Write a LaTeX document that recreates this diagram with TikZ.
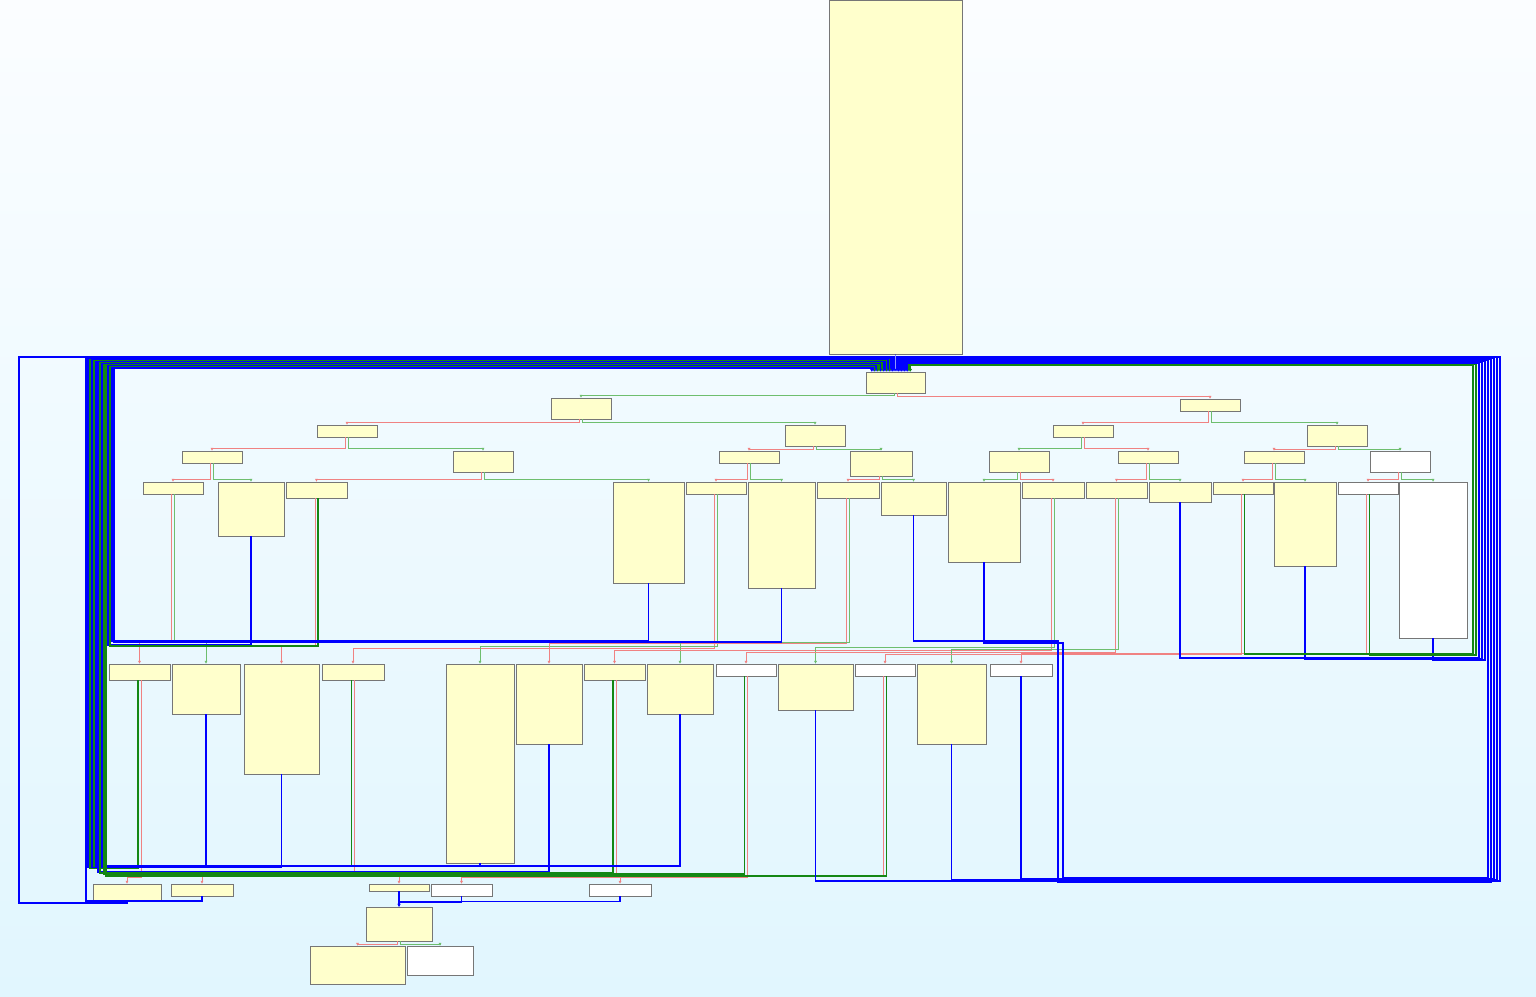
\documentclass[tikz,border=0pt]{standalone}
\usepackage{tikz}
\usetikzlibrary{
    arrows.meta,
    shadows,
}
\definecolor{BlockBG}{RGB}{255,255,204}
\definecolor{BlockLine}{RGB}{118,118,118}
\definecolor{CondT}{RGB}{110,190,110}
\definecolor{CondF}{RGB}{240,130,130}
\definecolor{BackT}{RGB}{20,135,20}
\definecolor{Jump}{RGB}{0,0,255}
\definecolor{SkyTop}{RGB}{251,253,255}
\definecolor{SkyBot}{RGB}{225,246,254}
\tikzstyle{block}=[draw=BlockLine,fill=BlockBG,rectangle,anchor=north west,inner sep=0pt,outer sep=0pt,line width=.5pt,drop shadow={shadow xshift=.6pt,shadow yshift=-.6pt,opacity=.25}]
\tikzstyle{blank}=[fill=white]
\tikzstyle{jmp}=[draw=Jump,line width=.55pt,-{Latex[length=1.6pt,width=1.6pt]}]
\tikzstyle{cond_t}=[draw=CondT,line width=.5pt,-{Latex[length=1.6pt,width=1.6pt]}]
\tikzstyle{cond_f}=[draw=CondF,line width=.5pt,-{Latex[length=1.6pt,width=1.6pt]}]
\tikzstyle{back_t}=[draw=BackT,line width=.55pt,-{Latex[length=1.6pt,width=1.6pt]}]
% block: name, left, top, right, bottom (pixels)
\newcommand{\Block}[6][]{%
    \node[block,#1,minimum width={(#5-#3)*.5pt},minimum height={(#6-#4)*.5pt}] (#2) at (#3,#4) {};
}
% forward edge: from, to, x offset, height of the bend above the target
\newcommand{\Flow}[5][]{%
    \draw[#1] ([xshift=#4*.5pt]#2.south) |- ([yshift=#5*.5pt]#3.north) -- (#3.north);
}
% edge back to the loop head: from, x offset, channel y, side x, top y, entry x
\newcommand{\Back}[7][]{%
    \draw[#1] ([xshift=#3*.5pt]#2.south) |- (#5,#4) |- (#7,#6) -- (#7,0 |- Head.north);
}
% same, with a detour down to the lower channel: from, channel y, middle x, lower y, side x, top y, entry x
\newcommand{\BackLow}[8][]{%
    \draw[#1] (#2.south) |- (#4,#3) |- (#6,#5) |- (#8,#7) -- (#8,0 |- Head.north);
}

\begin{document}
\begin{tikzpicture}[x=.5pt,y=-.5pt]
    \shade[top color=SkyTop,bottom color=SkyBot] (0,0) rectangle (1536,996);
    \useasboundingbox (0,0) rectangle (1536,996);

    % Blocks
    \Block{Top}{829}{0}{962}{354}
    \Block{Head}{866}{372}{925}{393}
    \Block{a}{551}{398}{611}{419}
    \Block{b}{1180}{399}{1240}{411}
    \Block{c1}{317}{425}{377}{437}
    \Block{c2}{785}{425}{845}{446}
    \Block{c3}{1053}{425}{1113}{437}
    \Block{c4}{1307}{425}{1367}{446}
    \Block{d1}{182}{451}{242}{463}
    \Block{d2}{453}{451}{513}{472}
    \Block{d3}{719}{451}{779}{463}
    \Block{d4}{850}{451}{912}{476}
    \Block{d5}{989}{451}{1049}{472}
    \Block{d6}{1118}{451}{1178}{463}
    \Block{d7}{1244}{451}{1304}{463}
    \Block[blank]{d8}{1370}{451}{1430}{472}
    \Block{e1}{143}{482}{203}{494}
    \Block{e2}{218}{482}{284}{536}
    \Block{e3}{286}{482}{347}{498}
    \Block{e4}{613}{482}{684}{583}
    \Block{e5}{686}{482}{746}{494}
    \Block{e6}{748}{482}{815}{588}
    \Block{e7}{817}{482}{879}{498}
    \Block{e8}{881}{482}{946}{515}
    \Block{e9}{948}{482}{1020}{562}
    \Block{e10}{1022}{482}{1084}{498}
    \Block{e11}{1086}{482}{1147}{498}
    \Block{e12}{1149}{482}{1211}{502}
    \Block{e13}{1213}{482}{1273}{494}
    \Block{e14}{1274}{482}{1336}{566}
    \Block[blank]{e15}{1338}{482}{1398}{494}
    \Block[blank]{e16}{1399}{482}{1467}{638}
    \Block{f1}{109}{664}{170}{680}
    \Block{f2}{172}{664}{240}{714}
    \Block{f3}{244}{664}{319}{774}
    \Block{f4}{322}{664}{384}{680}
    \Block{f5}{446}{664}{514}{863}
    \Block{f6}{516}{664}{582}{744}
    \Block{f7}{584}{664}{645}{680}
    \Block{f8}{647}{664}{713}{714}
    \Block[blank]{f9}{716}{664}{776}{676}
    \Block{f10}{778}{664}{853}{710}
    \Block[blank]{f11}{855}{664}{915}{676}
    \Block{f12}{917}{664}{986}{744}
    \Block[blank]{f13}{990}{664}{1052}{676}
    \Block{g1}{93}{884}{161}{900}
    \Block{g2}{171}{884}{233}{896}
    \Block{g3}{369}{884}{429}{891}
    \Block[blank]{g4}{431}{884}{492}{896}
    \Block[blank]{g5}{589}{884}{651}{896}
    \Block{h}{366}{907}{432}{941}
    \Block{i1}{310}{946}{405}{984}
    \Block[blank]{i2}{407}{946}{473}{975}

    % Forward edges
    \draw[jmp,draw opacity=.4] (Top.south) -- (Head.north);
    \Flow[cond_t]{Head}{a}{-1.5}{2.5}
    \Flow[cond_f]{Head}{b}{1.5}{2.5}
    \Flow[cond_f]{a}{c1}{-1.5}{3}
    \Flow[cond_t]{a}{c2}{1.5}{3}
    \Flow[cond_f]{b}{c3}{-1.5}{3}
    \Flow[cond_t]{b}{c4}{1.5}{3}
    \Flow[cond_f]{c1}{d1}{-1.5}{3}
    \Flow[cond_t]{c1}{d2}{1.5}{3}
    \Flow[cond_f]{c2}{d3}{-1.5}{2}
    \Flow[cond_t]{c2}{d4}{1.5}{2}
    \Flow[cond_t]{c3}{d5}{-1.5}{3}
    \Flow[cond_f]{c3}{d6}{1.5}{3}
    \Flow[cond_f]{c4}{d7}{-1.5}{2}
    \Flow[cond_t]{c4}{d8}{1.5}{2}
    \Flow[cond_f]{d1}{e1}{-1.5}{2.5}
    \Flow[cond_t]{d1}{e2}{1.5}{2.5}
    \Flow[cond_f]{d2}{e3}{-1.5}{2.5}
    \Flow[cond_t]{d2}{e4}{1.5}{2.5}
    \Flow[cond_f]{d3}{e5}{-1.5}{2.5}
    \Flow[cond_t]{d3}{e6}{1.5}{2.5}
    \Flow[cond_f]{d4}{e7}{-1.5}{2.5}
    \Flow[cond_t]{d4}{e8}{1.5}{2.5}
    \Flow[cond_t]{d5}{e9}{-1.5}{2.5}
    \Flow[cond_f]{d5}{e10}{1.5}{2.5}
    \Flow[cond_f]{d6}{e11}{-1.5}{2.5}
    \Flow[cond_t]{d6}{e12}{1.5}{2.5}
    \Flow[cond_f]{d7}{e13}{-1.5}{2.5}
    \Flow[cond_t]{d7}{e14}{1.5}{2.5}
    \Flow[cond_f]{d8}{e15}{-1.5}{2.5}
    \Flow[cond_t]{d8}{e16}{1.5}{2.5}
    \Flow[cond_f]{e1}{f1}{-1.5}{23}
    \Flow[cond_t]{e1}{f2}{1.5}{23}
    \Flow[cond_f]{e3}{f3}{-1.5}{19}
    \Flow[cond_f]{e5}{f4}{-1.5}{16}
    \Flow[cond_t]{e5}{f5}{1.5}{18}
    \Flow[cond_f]{e7}{f6}{-1.5}{21}
    \Flow[cond_t]{e7}{f8}{1.5}{22}
    \Flow[cond_f]{e10}{f7}{-1.5}{14}
    \Flow[cond_t]{e10}{f10}{1.5}{17}
    \Flow[cond_f]{e11}{f9}{-1.5}{12}
    \Flow[cond_t]{e11}{f12}{1.5}{15}
    \Flow[cond_f]{e13}{f11}{-1.5}{10}
    \Flow[cond_f]{e15}{f13}{-1.5}{11}
    \Flow[cond_f]{f1}{g1}{1.5}{7}
    \Flow[cond_f]{f4}{g2}{1.5}{8}
    \Flow[cond_f]{f7}{g5}{1.5}{9}
    \Flow[cond_f]{f9}{g4}{1.5}{7}
    \Flow[cond_f]{f11}{g3}{-1.5}{7.5}
    \Flow[jmp]{g3}{h}{0}{4}
    \Flow[jmp]{g4}{h}{0}{5}
    \Flow[jmp]{g5}{h}{0}{5.5}
    \Flow[cond_f]{h}{i1}{-1.5}{2}
    \Flow[cond_t]{h}{i2}{1.5}{2}

    % Back edges, left side
    \Back[jmp]{g1}{0}{903}{19}{357}{894}
    \Back[jmp]{g2}{0}{901}{86}{357.75}{892.5}
    \Back[jmp]{f2}{0}{867}{88}{358.5}{891}
    \Back[back_t]{f1}{-1.5}{868}{90}{359.25}{889.5}
    \Back[jmp]{f3}{0}{867.5}{92}{360}{888}
    \Back[back_t]{f4}{-1.5}{866}{94}{360.75}{886.5}
    \Back[jmp]{f5}{0}{866.5}{96}{361.5}{885}
    \Back[jmp]{f6}{0}{872}{98}{362.25}{883.5}
    \Back[back_t]{f7}{-1.5}{873}{100}{363}{882}
    \Back[jmp]{f8}{0}{866}{102}{363.75}{880.5}
    \Back[back_t]{f9}{-1.5}{874}{104}{364.5}{879}
    \Back[back_t]{f11}{1.5}{876}{106}{365.25}{877.5}
    \Back[jmp]{e2}{0}{645}{108}{366}{876}
    \Back[back_t]{e3}{1.5}{646}{110}{366.75}{874.5}
    \Back[jmp]{e4}{0}{641}{112}{367.5}{873}
    \Back[jmp]{e6}{0}{642}{114}{368.25}{871.5}

    % Back edges, right side
    \Back[jmp]{f10}{0}{881}{1500}{357}{897}
    \Back[jmp]{f12}{0}{880}{1497}{357.9}{898.5}
    \Back[jmp]{f13}{0}{879}{1494}{358.8}{900}
    \BackLow[jmp]{e8}{641}{1058}{882}{1491}{359.7}{901.5}
    \BackLow[jmp]{e9}{643}{1063}{878}{1488}{360.6}{903}
    \Back[jmp]{e16}{0}{660}{1485}{361.5}{904.5}
    \Back[jmp]{e14}{0}{659}{1482}{362.4}{906}
    \Back[jmp]{e12}{0}{658}{1479}{363.3}{907.5}
    \Back[back_t]{e15}{1.5}{655}{1476}{364.2}{909}
    \Back[back_t]{e13}{1.5}{654}{1473}{365.1}{910.5}
\end{tikzpicture}
\end{document}
